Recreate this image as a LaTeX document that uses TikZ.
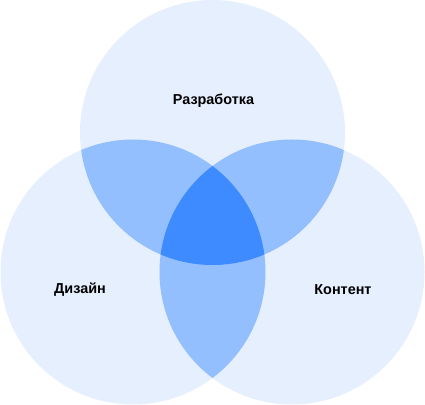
\documentclass[tikz,border=0pt]{standalone}
\usepackage{fontspec}
\setmainfont{Liberation Sans}
\definecolor{venlight}{HTML}{E6EFFE}
\definecolor{venmid}{HTML}{94BFFF}
\definecolor{vendark}{HTML}{3D8BFF}
\def\vrad{132.5}
\begin{document}
\begin{tikzpicture}[x=1pt,y=1pt,lbl/.style={font=\bfseries\fontsize{14.4}{16}\selectfont}]
\useasboundingbox (0,0) rectangle (425,404);
\coordinate (dev) at (212.5,271.5);
\coordinate (des) at (133,132);
\coordinate (con) at (292,132);
% single circles
\fill[venlight] (dev) circle (\vrad);
\fill[venlight] (des) circle (\vrad);
\fill[venlight] (con) circle (\vrad);
% pairwise overlaps
\begin{scope}
\clip (dev) circle (\vrad);
\fill[venmid] (des) circle (\vrad);
\fill[venmid] (con) circle (\vrad);
\end{scope}
\begin{scope}
\clip (des) circle (\vrad);
\fill[venmid] (con) circle (\vrad);
\end{scope}
% centre
\begin{scope}
\clip (dev) circle (\vrad);
\clip (des) circle (\vrad);
\fill[vendark] (con) circle (\vrad);
\end{scope}
\node[lbl] (devlbl) at (213.5,303) {Разработка};
\node[lbl] (deslbl) at (80,114) {Дизайн};
\node[lbl] (conlbl) at (343,114) {Контент};
\end{tikzpicture}
\end{document}
